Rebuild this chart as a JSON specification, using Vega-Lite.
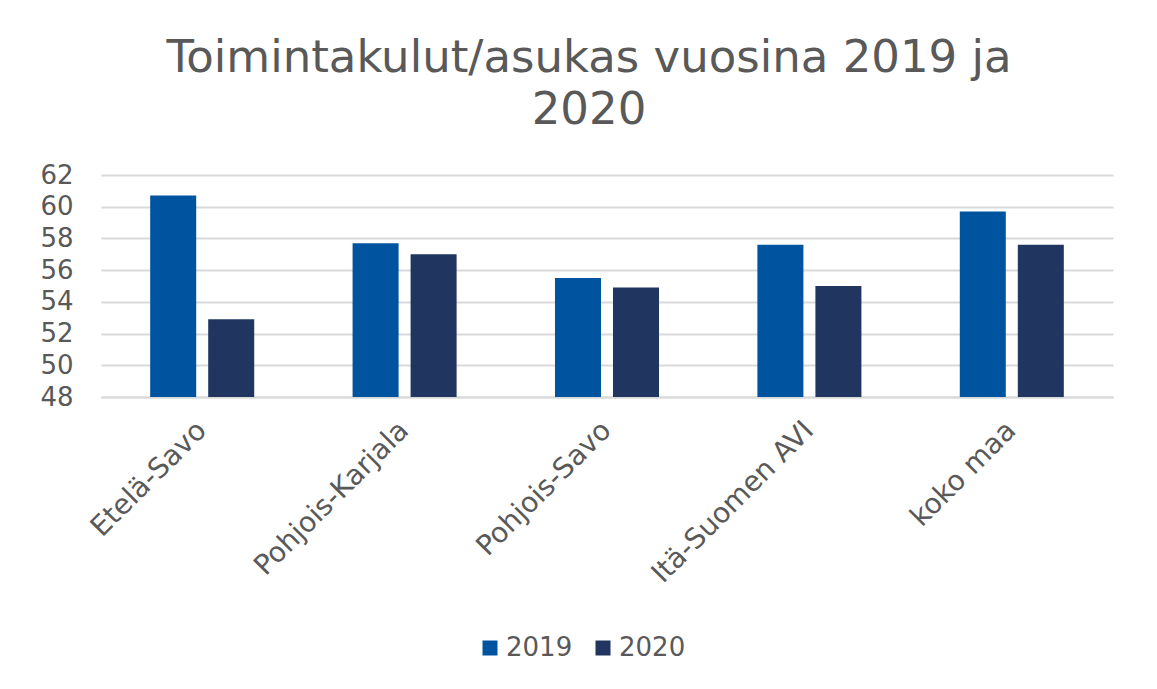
{
  "$schema": "https://vega.github.io/schema/vega-lite/v6.json",
  "autosize": {"type": "none"},
  "padding": {"left": 101, "top": 175, "right": 44, "bottom": 292},
  "width": 1012,
  "height": 222,
  "background": "white",
  "title": {
    "text": ["Toimintakulut/asukas vuosina 2019 ja", "2020"],
    "font": "DejaVu Sans",
    "fontSize": 45,
    "fontWeight": "normal",
    "color": "#595959",
    "anchor": "middle",
    "frame": "group",
    "baseline": "bottom",
    "lineHeight": 52,
    "offset": 39,
    "dy": 55,
    "dx": -18
  },
  "data": {
    "values": [
      {"Alue": "Etelä-Savo", "Vuosi": "2019", "Arvo": 60.7},
      {"Alue": "Etelä-Savo", "Vuosi": "2020", "Arvo": 52.9},
      {"Alue": "Pohjois-Karjala", "Vuosi": "2019", "Arvo": 57.7},
      {"Alue": "Pohjois-Karjala", "Vuosi": "2020", "Arvo": 57.0},
      {"Alue": "Pohjois-Savo", "Vuosi": "2019", "Arvo": 55.5},
      {"Alue": "Pohjois-Savo", "Vuosi": "2020", "Arvo": 54.9},
      {"Alue": "Itä-Suomen AVI", "Vuosi": "2019", "Arvo": 57.6},
      {"Alue": "Itä-Suomen AVI", "Vuosi": "2020", "Arvo": 55.0},
      {"Alue": "koko maa", "Vuosi": "2019", "Arvo": 59.7},
      {"Alue": "koko maa", "Vuosi": "2020", "Arvo": 57.6}
    ]
  },
  "mark": {"type": "bar", "clip": true},
  "encoding": {
    "x": {
      "field": "Alue",
      "type": "nominal",
      "sort": null,
      "title": null,
      "scale": {"paddingInner": 0.486, "paddingOuter": 0.243},
      "axis": {
        "labelAngle": -45,
        "labelAlign": "right",
        "labelBaseline": "middle",
        "labelFont": "DejaVu Sans",
        "labelFontSize": 28,
        "labelColor": "#595959",
        "labelPadding": 29,
        "labelLimit": 0,
        "labelOverlap": false,
        "ticks": false,
        "tickSize": 0,
        "domainColor": "#D9D9D9",
        "domainWidth": 2,
        "grid": false
      }
    },
    "xOffset": {
      "field": "Vuosi",
      "type": "nominal",
      "scale": {"paddingInner": 0.207, "paddingOuter": 0}
    },
    "y": {
      "field": "Arvo",
      "type": "quantitative",
      "title": null,
      "scale": {"domain": [48, 62], "zero": false, "nice": false},
      "axis": {
        "values": [48, 50, 52, 54, 56, 58, 60, 62],
        "labelFont": "DejaVu Sans",
        "labelFontSize": 26,
        "labelColor": "#595959",
        "labelPadding": 28,
        "ticks": false,
        "tickSize": 0,
        "domain": false,
        "gridColor": "#D9D9D9",
        "gridWidth": 2
      }
    },
    "color": {
      "field": "Vuosi",
      "type": "nominal",
      "title": null,
      "scale": {"domain": ["2019", "2020"], "range": ["#00549F", "#203660"]},
      "legend": {
        "orient": "none",
        "legendX": 376,
        "legendY": 460,
        "direction": "horizontal",
        "symbolType": "square",
        "symbolSize": 225,
        "symbolStrokeWidth": 0,
        "labelFont": "DejaVu Sans",
        "labelFontSize": 26,
        "labelColor": "#595959",
        "labelOffset": 3,
        "columnPadding": 17
      }
    }
  },
  "config": {
    "view": {"stroke": null}
  }
}
